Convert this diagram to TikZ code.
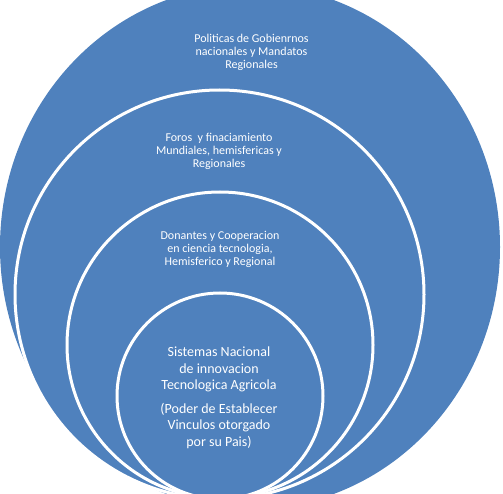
\documentclass[tikz,border=0pt]{standalone}
\usepackage{fontspec}
\setmainfont{Carlito}
\definecolor{vennblue}{RGB}{79,129,189}
\tikzset{
  ring/.style={draw=white, line width=3pt, fill=vennblue},
  lbl/.style={text=white, align=center, inner sep=0pt, font=\fontsize{12}{13}\selectfont},
  corelbl/.style={text=white, align=center, inner sep=0pt, font=\fontsize{14}{16.5}\selectfont},
}

\begin{document}
\begin{tikzpicture}[x=1pt, y=-1pt]
		%%%%% START %%%%%
		
		\clip (0, 0) rectangle (503, 494);
		
		\fill[vennblue] (250, 247) ellipse (250 and 262);
		
		\draw[ring] (219.5, 294.5) circle (204.5);
		\draw[ring] (220, 345) circle (153);
		\draw[ring] (220, 396) circle (103);
		
		\node[lbl] (gobiernos) at (251.5, 52) {Politicas de Gobienrnos\\nacionales y Mandatos\\Regionales};
		\node[lbl] (foros) at (219, 151) {Foros~ y finaciamiento\\Mundiales, hemisfericas y\\Regionales};
		\node[lbl] (donantes) at (220, 249.5) {Donantes y Cooperacion\\en ciencia tecnologia,\\Hemisferico y Regional};
		
		\node[corelbl] (sistema) at (219, 398) {Sistemas Nacional\\de innovacion\\Tecnologica Agricola\\[7pt](Poder de Establecer\\Vinculos otorgado\\por su Pais)};
		
		%%%%% END %%%%%
\end{tikzpicture}
\end{document}
